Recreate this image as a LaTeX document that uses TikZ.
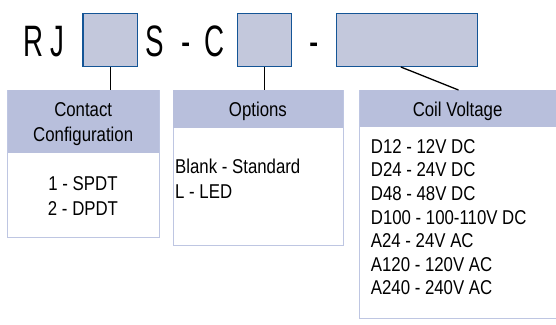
\documentclass[tikz,border=0pt]{standalone}
\usepackage{fontspec}
\setmainfont{Liberation Sans}[FakeStretch=0.84]
\newfontfamily\bigfont{Liberation Sans}[FakeStretch=0.63]
\definecolor{topfill}{RGB}{195,200,220}
\definecolor{topblue}{RGB}{20,85,150}
\definecolor{hdrfill}{RGB}{184,191,220}
\definecolor{lightborder}{RGB}{190,198,226}
\begin{document}
\begin{tikzpicture}[x=1pt,y=-1pt,
  topbox/.style={draw=topblue, fill=topfill, line width=1.3pt, inner sep=0pt, anchor=north west, minimum height=53pt},
  bodybox/.style={draw=lightborder, fill=white, line width=0.9pt, inner sep=0pt, anchor=north west},
  hdrbox/.style={fill=hdrfill, inner sep=0pt, anchor=north west},
  bigtxt/.style={font=\bigfont\fontsize{44}{44}\selectfont, inner sep=0pt, anchor=base},
  txt/.style={font=\fontsize{20}{23.6}\selectfont, inner sep=0pt},
  conn/.style={draw=black, line width=1.3pt}]
\useasboundingbox (0,0) rectangle (556,324);
% top code line
\node[bigtxt] (rj) at (44,56) {R J};
\node[topbox, minimum width=54.4pt] (box1) at (82.3,12.7) {};
\node[bigtxt] (s) at (155,56) {S};
\node[bigtxt] (d1) at (186,56) {-};
\node[bigtxt] (c) at (215,56) {C};
\node[topbox, minimum width=54pt] (box2) at (236.7,12.7) {};
\node[bigtxt] (d2) at (314.5,56) {-};
\node[topbox, minimum width=141pt] (box3) at (335.7,12.7) {};
% lower boxes
\node[bodybox, minimum width=151.7pt, minimum height=147.3pt] (bodyA) at (7.3,90) {};
\node[hdrbox, minimum width=151.7pt, minimum height=62.7pt] (hdrA) at (7.3,90) {};
\node[bodybox, minimum width=169.7pt, minimum height=155pt] (bodyB) at (173,90) {};
\node[hdrbox, minimum width=169.7pt, minimum height=37.7pt] (hdrB) at (173,90) {};
\node[bodybox, minimum width=198pt, minimum height=228pt] (bodyC) at (359.3,90) {};
\node[hdrbox, minimum width=198pt, minimum height=36.7pt] (hdrC) at (359.3,90) {};
% headers
\node[txt, align=center, font=\fontsize{20}{24.4}\selectfont] (tA) at (83.2,124.2) {Contact\\Configuration};
\node[txt, anchor=base] (tB) at (257.9,116.7) {Options};
\node[txt, anchor=base] (tC) at (457.6,116.7) {Coil Voltage};
% contents
\node[txt, anchor=base] (a1) at (83,190) {1 - SPDT};
\node[txt, anchor=base] (a2) at (83,215) {2 - DPDT};
\node[txt, anchor=base west] (b1) at (175,173.3) {Blank - Standard};
\node[txt, anchor=base west] (b2) at (175,198.3) {L - LED};
\foreach \t [count=\i] in {D12 - 12V DC, D24 - 24V DC, D48 - 48V DC, D100 - 100-110V DC, A24 - 24V AC, A120 - 120V AC, A240 - 240V AC}
  \node[txt, anchor=base west] (cv\i) at (370.7,{153.3+23.6*(\i-1)}) {\t};
% connectors
\draw[conn] (box1.south) -- (box1.south |- hdrA.north);
\draw[conn] (box2.south) -- (box2.south |- hdrB.north);
\draw[conn] ([xshift=-6pt]box3.south) -- (hdrC.north);
\end{tikzpicture}
\end{document}
